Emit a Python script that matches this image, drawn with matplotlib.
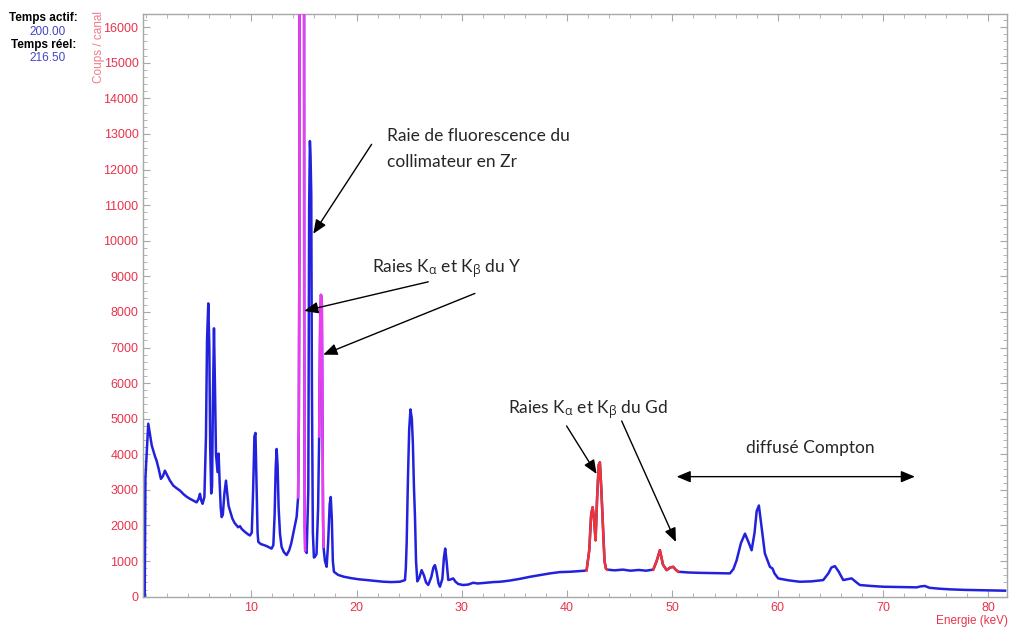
#!/usr/bin/env python3
"""Spectre gamma/X : raies de fluorescence Y, Zr, Gd et diffusé Compton."""
import matplotlib
matplotlib.use("Agg")
import matplotlib.pyplot as plt
from matplotlib.ticker import MultipleLocator

# Spectrum (energy keV, counts / channel)
energy_keV = [
    -0.12, -0.05, 0.05, 0.22, 0.38, 0.55, 0.70, 0.85, 1.01, 1.2, 1.42, 1.6, 1.80, 2.0, 2.28,
    2.6, 2.9, 3.23, 3.6, 3.9, 4.18, 4.5, 4.81, 5.0, 5.13, 5.25, 5.38, 5.55, 5.7, 5.8,
    5.92, 6.02, 6.1, 6.2, 6.28, 6.36, 6.46, 6.56, 6.65, 6.8, 6.9, 7.0, 7.1, 7.19, 7.3,
    7.45, 7.6, 7.72, 7.85, 7.98, 8.2, 8.4, 8.61, 8.75, 8.93, 9.1, 9.4, 9.7, 9.88, 10.05,
    10.18, 10.3, 10.4, 10.5, 10.6, 10.67, 10.9, 11.3, 11.6, 11.93, 12.1, 12.22, 12.32, 12.41, 12.5,
    12.6, 12.73, 12.88, 13.1, 13.36, 13.6, 13.8, 13.99, 14.15, 14.31, 14.45,
    14.52, 14.57, 14.62, 14.98, 15.03, 15.08, 15.12,
    15.26, 15.42, 15.5, 15.57, 15.63, 15.7, 15.76, 15.85, 15.95, 16.05, 16.2, 16.35, 16.45,
    16.55, 16.62, 16.7, 16.76, 16.82, 16.86,
    17.0, 17.16, 17.3, 17.45, 17.55, 17.65, 17.75, 17.85, 18.26, 18.8, 19.5, 20.16, 20.96, 21.8,
    22.54, 23.3, 24.12, 24.6, 24.68, 24.76, 24.88, 25.0, 25.12, 25.25, 25.35, 25.45, 25.55, 25.65,
    25.77, 25.95, 26.18, 26.4, 26.6, 26.81, 27.1, 27.3, 27.45, 27.6, 27.78, 27.92, 28.15, 28.3,
    28.42, 28.55, 28.71, 28.9, 29.18, 29.4, 29.66, 30.13, 30.6, 31.08, 31.5, 32.3, 33.0, 33.62,
    34.5, 35.5, 36.5, 37.5, 38.37, 39.3, 40.3, 41.53, 41.85,
    42.1, 42.28, 42.42, 42.55, 42.7, 42.85, 43.0, 43.11, 43.25, 43.43, 43.55, 43.68, 43.8,
    44.5, 45.3, 46.0, 46.8, 47.5, 48.18,
    48.5, 48.81, 49.1, 49.45, 49.8, 50.08, 50.3, 50.55,
    51.5, 52.5, 53.5, 54.5, 55.46, 55.8, 56.1, 56.5, 56.89, 57.2, 57.52, 57.8, 58.0, 58.21,
    58.45, 58.78, 59.26, 59.5, 59.7, 60.05, 61.0, 62.1, 63.2, 64.32, 64.8, 65.1, 65.43, 65.8,
    66.22, 66.6, 67.02, 67.4, 67.8, 68.9, 70.02, 71.5, 73.19, 73.6, 73.98, 74.4, 75.3, 76.35,
    77.8, 79.5, 81.58,
]
counts = [
    0, 3350, 3900, 4860, 4560, 4250, 4100, 3950, 3820, 3600, 3310, 3380, 3540, 3420, 3260,
    3120, 3050, 2980, 2870, 2800, 2750, 2700, 2650, 2750, 2890, 2700, 2610, 2800, 4500, 7200,
    8240, 7000, 4200, 2900, 3100, 5500, 7540, 5800, 4000, 3500, 4020, 3200, 2500, 2235, 2300,
    2900, 3260, 2900, 2550, 2420, 2200, 2080, 2000, 1950, 1980, 1900, 1820, 1750, 1720, 1800,
    3000, 4500, 4600, 3200, 1800, 1540, 1480, 1440, 1400, 1350, 1450, 2300, 3600, 4150, 3700,
    2500, 1770, 1400, 1250, 1170, 1300, 1500, 1770, 2000, 2240, 2790,
    5000, 9700, 40000, 40000, 8000, 2000, 1300,
    1230, 3000, 11000, 12800, 12400, 11300, 6000, 1800, 1100, 1120, 1200, 2500, 4500,
    7800, 8480, 8300, 5000, 2200, 1400,
    1000, 840, 1500, 2600, 2800, 2200, 1000, 700, 610, 560, 520, 490, 466, 440,
    420, 410, 420, 466, 800, 1500, 3300, 4700, 5260, 5000, 4300, 3100, 2235, 1000,
    430, 520, 746, 600, 400, 330, 550, 820, 886, 700, 380, 280, 500, 1100,
    1352, 1000, 470, 480, 513, 420, 355, 327, 340, 391, 370, 390, 410, 419,
    450, 500, 560, 610, 654, 690, 700, 726, 740,
    1304, 2300, 2514, 2200, 1584, 2800, 3700, 3771, 3000, 1771, 1000, 793, 760,
    740, 760, 730, 750, 730, 760,
    1000, 1304, 900, 746, 820, 838, 760, 700,
    680, 670, 665, 660, 654, 780, 1025, 1500, 1771, 1550, 1304, 1800, 2400, 2561,
    2000, 1212, 838, 793, 650, 513, 460, 419, 430, 466, 650, 820, 858, 700,
    466, 490, 513, 420, 327, 300, 279, 270, 262, 290, 300, 250, 225, 206,
    190, 180, 168,
]

# Regions of interest drawn in their own colour (keV bounds)
roi_bounds = [(14.45, 15.12), (16.45, 16.86), (41.85, 43.8), (48.18, 50.55)]
roi_colors = ["#f03cf0", "#f03cf0", "#f03434", "#f03434"]

SPEC_BLUE = "#2222dd"
TICK_RED = "#e8344c"
GRAY = "#a8a8a8"
TEXT = "#262626"

plt.rcParams["mathtext.fontset"] = "custom"
plt.rcParams["mathtext.rm"] = "Open Sans"
plt.rcParams["mathtext.it"] = "Open Sans:italic"
plt.rcParams["mathtext.fallback"] = "stixsans"
narrow = ["Liberation Sans Narrow", "Liberation Sans", "DejaVu Sans"]

fig = plt.figure(figsize=(10.1, 6.29), dpi=100)
ax = fig.add_axes([0.1419, 0.0514, 0.8554, 0.9263])

ax.plot(energy_keV, counts, color=SPEC_BLUE, lw=1.8, zorder=2)
for (lo, hi), col in zip(roi_bounds, roi_colors):
    seg = [(e, c) for e, c in zip(energy_keV, counts) if lo <= e <= hi]
    ax.plot([s[0] for s in seg], [s[1] for s in seg], color=col, lw=1.8, zorder=3)

ax.set_xlim(-0.25, 81.8)
ax.set_ylim(0, 16370)
ax.xaxis.set_major_locator(MultipleLocator(10))
ax.xaxis.set_minor_locator(MultipleLocator(2))
ax.yaxis.set_major_locator(MultipleLocator(1000))
ax.yaxis.set_minor_locator(MultipleLocator(200))
ax.set_xticks([10, 20, 30, 40, 50, 60, 70, 80])

for s in ax.spines.values():
    s.set_color(GRAY)
    s.set_linewidth(1.0)
ax.tick_params(which="both", direction="in", color=GRAY, top=True, right=True,
               labelcolor=TICK_RED, labelsize=9)
ax.tick_params(which="major", length=5)
ax.tick_params(which="minor", length=3)
ax.tick_params(axis="y", pad=3.5)
ax.tick_params(axis="x", pad=4)
for lab in ax.get_xticklabels() + ax.get_yticklabels():
    lab.set_family(narrow)

fig.text(99 / 1010, 1 - 47 / 629, "Coups / canal", rotation=90, ha="center", va="center",
         color="#f07a8a", fontsize=8.5, family=narrow)
fig.text(1008 / 1010, 1 - 621 / 629, "Energie (keV)", ha="right", va="center",
         color=TICK_RED, fontsize=8.5, family=narrow)

# Acquisition times, top left
fig.text(78 / 1010, 1 - 18 / 629, "Temps actif:", ha="right", va="center",
         fontsize=8.5, fontweight="bold", family=narrow)
fig.text(47.5 / 1010, 1 - 32 / 629, "200.00", ha="center", va="center",
         fontsize=8.5, color="#4444c8", family=narrow)
fig.text(76 / 1010, 1 - 45 / 629, "Temps réel:", ha="right", va="center",
         fontsize=8.5, fontweight="bold", family=narrow)
fig.text(47.5 / 1010, 1 - 58 / 629, "216.50", ha="center", va="center",
         fontsize=8.5, color="#4444c8", family=narrow)

# Annotations
txt = dict(fontsize=12.5, color=TEXT, family="Lato", va="baseline", zorder=5)
ka = r"K$_{\mathrm{\alpha}}$"
kb = r"K$_{\mathrm{\beta}}$"
ax.text(22.86, 12804, "Raie de fluorescence du", **txt)
ax.text(22.86, 12059, "collimateur en Zr", **txt)
ax.text(21.43, 9106, f"Raies {ka} et {kb} du Y", **txt)
ax.text(34.38, 5140, f"Raies {ka} et {kb} du Gd", **txt)
ax.text(63.06, 4050, "diffusé Compton", ha="center", **txt)

arrow = dict(arrowstyle="-|>,head_length=0.6,head_width=0.25", mutation_scale=14,
             color="black", lw=1.0, shrinkA=0, shrinkB=0)
arrows = [
    ((21.43, 12709), (15.89, 10196)),
    ((26.81, 8846), (15.03, 8028)),
    ((31.24, 8520), (16.84, 6799)),
    ((39.95, 4796), (42.8, 3447)),
    ((45.18, 4936), (50.33, 1536)),
]
for tail, tip in arrows:
    ax.annotate("", xy=tip, xytext=tail, arrowprops=arrow, zorder=5)
ax.annotate("", xy=(73.03, 3372), xytext=(50.4, 3372), zorder=5,
            arrowprops=dict(arrow, arrowstyle="<|-|>,head_length=0.6,head_width=0.25"))

fig.savefig("out.png", dpi=100)
